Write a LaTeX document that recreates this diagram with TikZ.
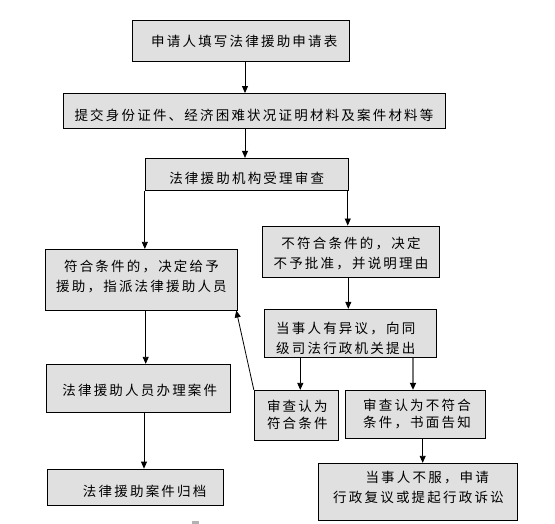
\documentclass[tikz,border=0pt]{standalone}
\usepackage{fontspec}
\newfontfamily\cjk{Noto Sans CJK SC}
\usetikzlibrary{arrows.meta}
\definecolor{boxfill}{RGB}{224,224,224}
\tikzset{
  box/.style={draw=black, line width=0.9pt, fill=boxfill, inner sep=0pt, rectangle},
  txt/.style={font=\cjk\addfontfeatures{LetterSpace=16.3}\fontsize{13.5}{20}\selectfont, align=center, inner sep=0pt},
  txts/.style={font=\cjk\addfontfeatures{LetterSpace=16.3}\fontsize{13.5}{17}\selectfont, align=center, inner sep=0pt},
  arr/.style={draw=black, line width=0.8pt, -{Triangle[length=7pt,width=6pt]}},
  arrg/.style={draw=black!55, line width=1.6pt, -{Triangle[length=7pt,width=6pt,color=black]}},
}
\begin{document}
\begin{tikzpicture}[x=1pt,y=-1pt]
\useasboundingbox (0,0) rectangle (555,524);
% boxes
\node[box, minimum width=217pt, minimum height=40.6pt] (b1) at (240.8,41) {};
\node[box, minimum width=382.4pt, minimum height=34.8pt] (b2) at (254.5,110.9) {};
\node[box, minimum width=203pt, minimum height=32.4pt] (b3) at (246.8,174.5) {};
\node[box, minimum width=192pt, minimum height=60.7pt] (b4) at (141.3,279.7) {};
\node[box, minimum width=177pt, minimum height=51pt] (b5) at (350.8,251.5) {};
\node[box, minimum width=172.5pt, minimum height=48pt] (b6) at (350.25,333.3) {};
\node[box, minimum width=184pt, minimum height=48pt] (b7) at (138.3,388.3) {};
\node[box, minimum width=176pt, minimum height=36.3pt] (b8) at (135.3,487.2) {};
\node[box, minimum width=84.4pt, minimum height=49.7pt] (b9) at (296.5,415.2) {};
\node[box, minimum width=140.4pt, minimum height=48pt] (b10) at (415.5,414.3) {};
\node[box, minimum width=199.4pt, minimum height=57pt] (b11) at (418,491.8) {};
% texts
\node[txt] (t1) at (244.3,41.7) {申请人填写法律援助申请表};
\node[txt] (t2) at (254,115) {提交身份证件、经济困难状况证明材料及案件材料等};
\node[txt] (t3) at (246.7,178.3) {法律援助机构受理审查};
\node[txt] (t4) at (141.5,277) {符合条件的，决定给予\\援助，指派法律援助人员};
\node[txt] (t5) at (351,253.5) {不符合条件的，决定\\不予批准，并说明理由};
\node[txt, align=left, anchor=west] (t6) at (276,338) {当事人有异议，向同\\级司法行政机关提出};
\node[txt] (t7) at (139.8,390.7) {法律援助人员办理案件};
\node[txt] (t8) at (144.7,491) {法律援助案件归档};
\node[txts] (t9) at (297.3,414.7) {审查认为\\符合条件};
\node[txts] (t10) at (417,414.3) {审查认为不符合\\条件，书面告知};
\node[txt] (t11) at (418.5,487.2) {\hspace*{17.4pt}当事人不服，申请\\行政复议或提起行政诉讼};
% stray mark
\node[fill=black!30, inner sep=0pt, minimum width=7.3pt, minimum height=3pt] (mk) at (195.3,522.5) {};
% connectors
\draw[arr] ([xshift=4.2pt]b1.south) -- ([xshift=4.2pt]b1.south |- b2.north);
\draw[arr] ([xshift=-9.5pt]b2.south) -- ([xshift=-9.5pt]b2.south |- b3.north);
\draw[arr] (b3.south west) -- (b3.south west |- b4.north);
\draw[arr] ([xshift=-1pt]b3.south east) -- ([xshift=-1pt]b3.south east |- b5.north);
\draw[arr] ([xshift=-2.5pt]b5.south) -- ([xshift=-2.5pt]b5.south |- b6.north);
\draw[arr] ([xshift=4.4pt]b4.south) -- ([xshift=4.4pt]b4.south |- b7.north);
\draw[arr] ([xshift=5.7pt]b7.south) -- ([xshift=5.7pt]b7.south |- b8.north);
\draw[arr] ([xshift=3.8pt]b9.north |- b6.south) -- ([xshift=3.8pt]b9.north);
\draw[arrg] ([xshift=-2.5pt]b10.north |- b6.south) -- ([xshift=-2.5pt]b10.north);
\draw[arr] ([xshift=7.2pt]b10.south) -- ([xshift=7.2pt]b10.south |- b11.north);
\draw[arr] (b9.north west) -- ([xshift=-1.5pt]b4.south east);
\end{tikzpicture}
\end{document}
